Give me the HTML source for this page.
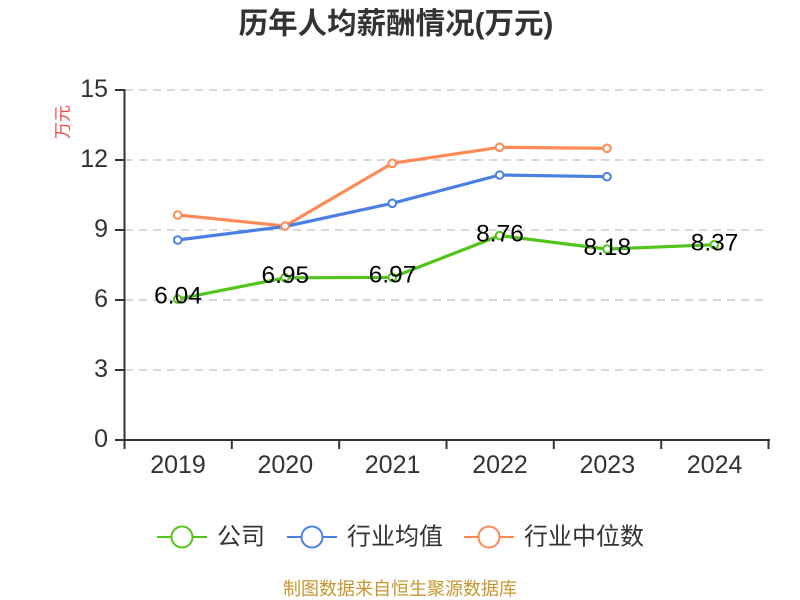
<!DOCTYPE html>
<html><head><meta charset="utf-8"><style>
html,body{margin:0;padding:0;background:#fff;}
svg{display:block;}
text{font-family:"Liberation Sans","Noto Sans CJK SC",sans-serif;}
</style></head><body>
<svg width="800" height="600" viewBox="0 0 800 600" xmlns="http://www.w3.org/2000/svg">
<rect width="800" height="600" fill="#fff"/>
<text x="396" y="24" text-anchor="middle" dominant-baseline="central" font-size="29.5" font-weight="bold" fill="#333">历年人均薪酬情况(万元)</text>
<text transform="translate(63,122) rotate(-90)" text-anchor="middle" dominant-baseline="central" font-size="17" fill="#f04848">万元</text>
<g stroke="#ccc" stroke-width="1.5" stroke-dasharray="8 6">
<line x1="125" y1="90" x2="769" y2="90"/>
<line x1="125" y1="160" x2="769" y2="160"/>
<line x1="125" y1="230" x2="769" y2="230"/>
<line x1="125" y1="300" x2="769" y2="300"/>
<line x1="125" y1="370" x2="769" y2="370"/>
</g>
<g stroke="#333" stroke-width="2" fill="none">
<line x1="124.5" y1="89" x2="124.5" y2="441"/>
<line x1="123.5" y1="440" x2="770" y2="440"/>
<line x1="115" y1="90" x2="124" y2="90"/>
<line x1="115" y1="160" x2="124" y2="160"/>
<line x1="115" y1="230" x2="124" y2="230"/>
<line x1="115" y1="300" x2="124" y2="300"/>
<line x1="115" y1="370" x2="124" y2="370"/>
<line x1="115" y1="440" x2="124" y2="440"/>
<line x1="124.5" y1="440" x2="124.5" y2="449"/>
<line x1="231.8" y1="440" x2="231.8" y2="449"/>
<line x1="339.2" y1="440" x2="339.2" y2="449"/>
<line x1="446.5" y1="440" x2="446.5" y2="449"/>
<line x1="553.8" y1="440" x2="553.8" y2="449"/>
<line x1="661.2" y1="440" x2="661.2" y2="449"/>
<line x1="768.5" y1="440" x2="768.5" y2="449"/>
</g>
<g font-size="25" fill="#333" text-anchor="end" dominant-baseline="central">
<text x="108" y="89">15</text>
<text x="108" y="159">12</text>
<text x="108" y="229">9</text>
<text x="108" y="299">6</text>
<text x="108" y="369">3</text>
<text x="108" y="439">0</text>
</g>
<g font-size="25" fill="#333" text-anchor="middle" dominant-baseline="central">
<text x="178" y="465">2019</text>
<text x="285.3" y="465">2020</text>
<text x="392.6" y="465">2021</text>
<text x="500" y="465">2022</text>
<text x="607.3" y="465">2023</text>
<text x="714.6" y="465">2024</text>
</g>
<g fill="none" stroke-width="3.2" stroke-linejoin="round">
<polyline stroke="#ff8a55" points="177.7,215 285,226 392.3,163.3 499.6,147.3 607,148.3"/>
<polyline stroke="#4a80e2" points="177.7,240 285,226.5 392.3,203.3 499.6,175 607,176.7"/>
<polyline stroke="#52c41a" points="177.7,299.1 285,277.8 392.3,277.4 499.6,235.6 607,249.1 714.3,244.7"/>
</g>
<g fill="#fff" stroke-width="2">
<g stroke="#ff8a55">
<circle cx="177.7" cy="215" r="3.8"/><circle cx="392.3" cy="163.3" r="3.8"/><circle cx="499.6" cy="147.3" r="3.8"/><circle cx="607" cy="148.3" r="3.8"/>
</g>
<g stroke="#4a80e2">
<circle cx="177.7" cy="240" r="3.8"/><circle cx="392.3" cy="203.3" r="3.8"/><circle cx="499.6" cy="175" r="3.8"/><circle cx="607" cy="176.7" r="3.8"/>
</g>
<circle stroke="#ff8a55" cx="285" cy="226" r="3.8"/>
<g stroke="#52c41a">
<circle cx="177.7" cy="299.1" r="3.8"/><circle cx="285" cy="277.8" r="3.8"/><circle cx="392.3" cy="277.4" r="3.8"/><circle cx="499.6" cy="235.6" r="3.8"/><circle cx="607" cy="249.1" r="3.8"/><circle cx="714.3" cy="244.7" r="3.8"/>
</g>
</g>
<g font-size="24.5" fill="#000" text-anchor="middle" dominant-baseline="central">
<text x="178" y="296">6.04</text>
<text x="285.3" y="275.5">6.95</text>
<text x="392.6" y="275">6.97</text>
<text x="500" y="234">8.76</text>
<text x="607.3" y="247.5">8.18</text>
<text x="714.6" y="243">8.37</text>
</g>
<g stroke-width="2" fill="#fff">
<line x1="157" y1="537" x2="207" y2="537" stroke="#52c41a"/>
<circle cx="182" cy="537" r="10.5" stroke="#52c41a"/>
<line x1="287" y1="537" x2="337" y2="537" stroke="#4a80e2"/>
<circle cx="312" cy="537" r="10.5" stroke="#4a80e2"/>
<line x1="464" y1="537" x2="514" y2="537" stroke="#ff8a55"/>
<circle cx="489" cy="537" r="10.5" stroke="#ff8a55"/>
</g>
<g font-size="24" fill="#333" dominant-baseline="central">
<text x="217" y="537">公司</text>
<text x="347" y="537">行业均值</text>
<text x="524" y="537">行业中位数</text>
</g>
<text x="400" y="589" text-anchor="middle" dominant-baseline="central" font-size="18" fill="#c8962e">制图数据来自恒生聚源数据库</text>
</svg>
</body></html>
